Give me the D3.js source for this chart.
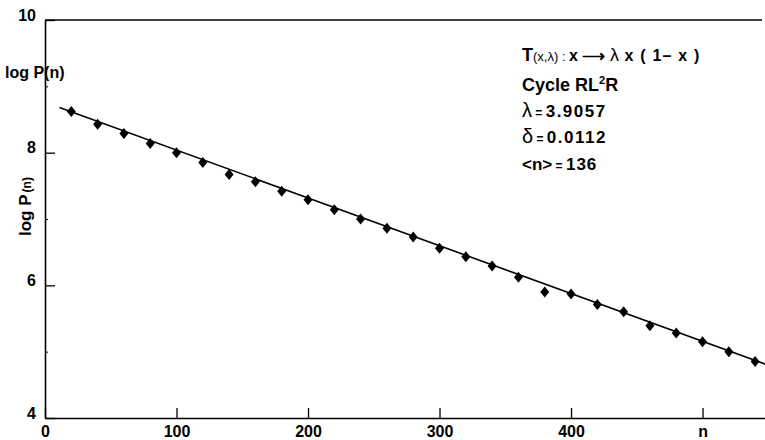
<!DOCTYPE html>
<html>
<head>
<meta charset="utf-8">
<script src="https://cdn.jsdelivr.net/npm/d3@7"></script>
<style>
  body { margin: 0; background: #fff; }
  svg { display: block; }
  text { font-family: 'Liberation Sans Narrow', 'Liberation Sans', Arial, sans-serif; font-weight: bold; fill: #000; }
</style>
</head>
<body>
<div id="chart"></div>
<script>
/* global d3 */

// data: n (step 20) and log P(n)
const steps = [20, 40, 60, 80, 100, 120, 140, 160, 180, 200, 220, 240, 260, 280,
  300, 320, 340, 360, 380, 400, 420, 440, 460, 480, 500, 520, 540]
const logP = [8.62, 8.43, 8.29, 8.14, 8.00, 7.85, 7.67, 7.56, 7.42, 7.29, 7.14, 7.00, 6.86, 6.73,
  6.56, 6.43, 6.29, 6.12, 5.90, 5.87, 5.71, 5.60, 5.39, 5.28, 5.15, 5.00, 4.85]

// fitted line ends
const fitLine = [[11, 8.68], [548, 4.81]]

const xTicks = [0, 100, 200, 300, 400, 500]
const yTicks = [4, 6, 8, 10]
const yMinorTicks = [5, 7, 9]

const width = 765
const height = 440
const plotLeft = 45
const plotTop = 20
const plotBottom = 418

const svg = d3.select('#chart').append('svg').attr('width', width).attr('height', height)

const x = d3.scaleLinear().domain([0, 547.5]).range([plotLeft, width])
const y = d3.scaleLinear().domain([4, 10]).range([plotBottom, plotTop])

// x axis, ticks pointing up into the plot
const xAxis = svg.append('g')
  .attr('transform', `translate(0,${plotBottom})`)
  .call(d3.axisBottom(x).tickValues(xTicks).tickSizeInner(-10).tickSizeOuter(0).tickPadding(8)
    .tickFormat((d) => d === 500 ? 'n' : d))
xAxis.select('.domain').attr('stroke-width', 1.6)
xAxis.selectAll('.tick line').attr('stroke-width', 1.3)
xAxis.selectAll('text').attr('font-size', 16)

// y axis, ticks pointing right
const yAxis = svg.append('g')
  .attr('transform', `translate(${plotLeft},0)`)
  .call(d3.axisLeft(y).tickValues(yTicks).tickSizeInner(-10).tickSizeOuter(0).tickPadding(9)
    .tickFormat(d3.format('d')))
yAxis.select('.domain').attr('stroke-width', 1.6)
yAxis.selectAll('.tick line').attr('stroke-width', 1.3)
yAxis.selectAll('text').attr('font-size', 16).attr('dy', '0.0em')

svg.append('g')
  .attr('transform', `translate(${plotLeft},0)`)
  .call(d3.axisLeft(y).tickValues(yMinorTicks).tickSizeInner(-3).tickSizeOuter(0).tickFormat(''))
  .call((g) => g.select('.domain').remove())

// top frame line
svg.append('line')
  .attr('x1', plotLeft).attr('x2', 762)
  .attr('y1', plotTop).attr('y2', plotTop)
  .attr('stroke', '#000').attr('stroke-width', 1.6)

// fitted line
svg.append('path')
  .datum(fitLine)
  .attr('d', d3.line().x((d) => x(d[0])).y((d) => y(d[1])))
  .attr('fill', 'none')
  .attr('stroke', '#000')
  .attr('stroke-width', 1.6)

// diamond markers
svg.append('g')
  .selectAll('path')
  .data(steps)
  .enter()
  .append('path')
  .attr('transform', (d, i) => `translate(${x(d)},${y(logP[i])})`)
  .attr('d', 'M0,-5.5L4.5,0L0,5.5L-4.5,0Z')
  .attr('fill', '#000')

// axis titles
const topTitle = svg.append('text').attr('x', 5).attr('y', 78).attr('font-size', 16)
topTitle.append('tspan').text('log P(n)')

const sideTitle = svg.append('text')
  .attr('transform', 'translate(31,236) rotate(-90)')
  .attr('font-size', 17)
sideTitle.append('tspan').text('log P')
sideTitle.append('tspan').attr('font-size', 12).attr('dx', 2).text('(n)')

// annotation block
const note = svg.append('g').attr('transform', 'translate(522,0)')

const l1 = note.append('text').attr('y', 61).attr('font-size', 16)
l1.append('tspan').attr('font-size', 18).text('T')
l1.append('tspan').attr('font-size', 13).attr('font-weight', 'normal').text('(x,λ) : ')
l1.append('tspan').text('x ⟶ ')
l1.append('tspan').attr('font-size', 18).attr('font-weight', 'normal').text('λ')
l1.append('tspan').attr('letter-spacing', 1.2).text(' x ( 1– x )')

const l2 = note.append('text').attr('y', 91).attr('font-size', 18)
l2.append('tspan').text('Cycle RL')
l2.append('tspan').attr('font-size', 11).attr('dy', -7).text('2')
l2.append('tspan').attr('dy', 7).text('R')

const l3 = note.append('text').attr('y', 117).attr('font-size', 17)
l3.append('tspan').attr('font-size', 20).attr('font-weight', 'normal').text('λ')
l3.append('tspan').attr('font-size', 12).text(' = ')
l3.append('tspan').attr('letter-spacing', 1.5).text('3.9057')

const l4 = note.append('text').attr('y', 143).attr('font-size', 17)
l4.append('tspan').attr('font-size', 20).attr('font-weight', 'normal').text('δ')
l4.append('tspan').attr('font-size', 12).text(' = ')
l4.append('tspan').attr('letter-spacing', 1.5).text('0.0112')

const l5 = note.append('text').attr('y', 170).attr('font-size', 17)
l5.append('tspan').text('<n>')
l5.append('tspan').attr('font-size', 12).text(' = ')
l5.append('tspan').attr('letter-spacing', 1).text('136')
</script>
</body>
</html>
